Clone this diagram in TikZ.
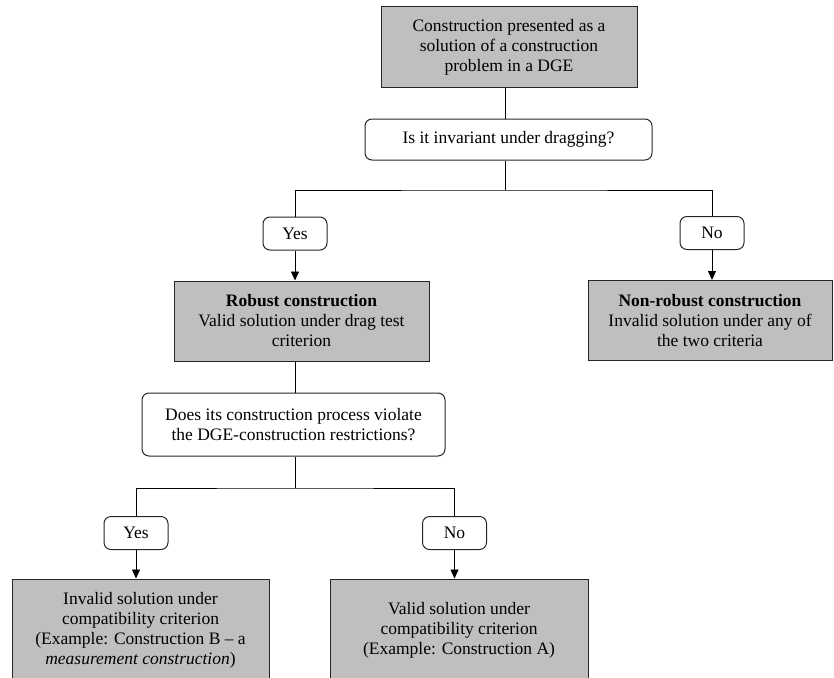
\documentclass[tikz,border=0pt]{standalone}
\usepackage{fontspec}
\setmainfont{Liberation Serif}
\usetikzlibrary{arrows.meta,positioning}
\tikzset{font=\fontsize{17.5}{20}\selectfont}
\tikzset{box/.style={draw=black!85, fill=black!25, line width=1pt, align=center, inner sep=0pt},
  quest/.style={draw=black!85, rounded corners=7pt, line width=1pt, align=center, inner sep=0pt},
  answer/.style={quest, minimum width=64pt, minimum height=33pt},
  arr/.style={-{Triangle[width=8pt,length=9pt]}, line width=0.8pt},
  link/.style={line width=0.8pt}}

\begin{document}
\begin{tikzpicture}[x=1pt,y=-1pt]
  \useasboundingbox (0,0) rectangle (834,677);

  \node[box, minimum width=256pt, minimum height=80pt] (start) at (509,47)
       {\rule{0pt}{6pt}Construction presented as a\\ solution of a construction\\ problem in a DGE};
  \node[quest, minimum width=287pt, minimum height=41pt] (invariant) at (508.5,139.5)
       {Is it invariant under dragging?};

  \node[answer] (yesa) at (295,233.5) {Yes};
  \node[answer] (noa) at (712,233) {No};

  \node[box, minimum width=255pt, minimum height=80pt] (robust) at (301.5,321)
       {\textbf{Robust construction}\\ Valid solution under drag test\\ criterion};
  \node[box, minimum width=244pt, minimum height=80pt] (nonrobust) at (710,320.5)
       {\textbf{Non-robust construction}\\ Invalid solution under any of\\ the two criteria};

  \node[quest, minimum width=303pt, minimum height=63pt] (violate) at (293.5,424.5)
       {Does its construction process violate\\ the DGE-construction restrictions?};

  \node[answer] (yesb) at (136,533) {Yes};
  \node[answer] (nob) at (454.5,533) {No};

  \node[box, minimum width=257pt, minimum height=102pt] (invalid) at (140.5,630)
       {Invalid solution under\\ compatibility criterion\\ (Example: Construction B -- a\\ \textit{measurement construction})};
  \node[box, minimum width=258pt, minimum height=102pt] (valid) at (459,630)
       {Valid solution under\\ compatibility criterion\\ (Example: Construction A)};

  \coordinate (splita) at (505,190);
  \coordinate (splitb) at (295,488);

  \draw[link] (start.south -| splita) -- (invariant.north -| splita);
  \draw[link] (invariant.south -| splita) -- (splita);
  \draw[link] (yesa.north) |- (splita) -| (noa.north);
  \draw[arr] (yesa.south) -- (yesa.south |- robust.north);
  \draw[arr] (noa.south) -- (noa.south |- nonrobust.north);

  \draw[link] (robust.south -| splitb) -- (violate.north -| splitb);
  \draw[link] (violate.south -| splitb) -- (splitb);
  \draw[link] (yesb.north) |- (splitb) -| (nob.north);
  \draw[arr] (yesb.south) -- (yesb.south |- invalid.north);
  \draw[arr] (nob.south) -- (nob.south |- valid.north);
\end{tikzpicture}
\end{document}
